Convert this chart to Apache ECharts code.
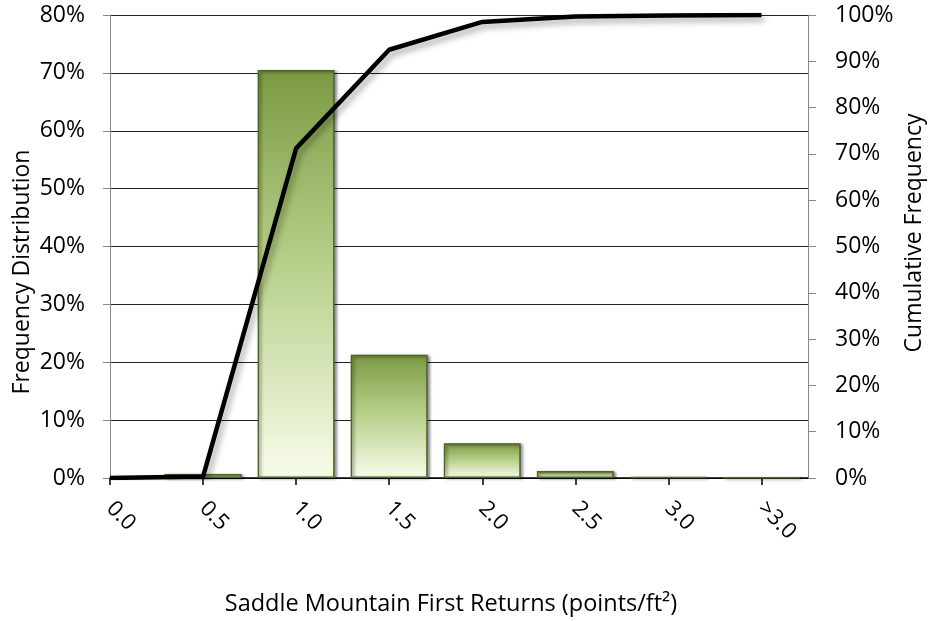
<!DOCTYPE html>
<html>
<head>
<meta charset="utf-8">
<script src="https://cdn.jsdelivr.net/npm/echarts@6/dist/echarts.min.js"></script>
<style>
  html, body { margin: 0; padding: 0; background: #ffffff; }
  #chart { width: 930px; height: 621px; }
</style>
</head>
<body>
<div id="chart"></div>
<script>
// Point-density bins (points/ft²)
const categories = ['0.0', '0.5', '1.0', '1.5', '2.0', '2.5', '3.0', '>3.0'];
// Share of cells in each bin, %
const frequency = [0, 0.7, 70.5, 21.3, 6.0, 1.2, 0.2, 0.1];
// Running total, %
const cumulative = [0, 0.3, 71.2, 92.5, 98.5, 99.7, 99.9, 100];
// Axis tick values, %
const leftTicks = [0, 10, 20, 30, 40, 50, 60, 70, 80];
const rightTicks = [0, 10, 20, 30, 40, 50, 60, 70, 80, 90, 100];

const FONT = '"Open Sans", "Noto Sans", sans-serif';
const positions = categories.map((c, i) => i);

const chart = echarts.init(document.getElementById('chart'), null, { renderer: 'canvas' });

// An empty bin draws nothing (no outline or shadow hanging off the axis)
const barData = frequency.map((v, i) => v === 0
  ? { value: [positions[i], v], itemStyle: { borderWidth: 0, shadowBlur: 0, shadowOffsetX: 0, shadowOffsetY: 0, opacity: 0 } }
  : { value: [positions[i], v] });

chart.setOption({
  backgroundColor: '#ffffff',
  animation: false,
  grid: { left: 110, right: 122, top: 15, bottom: 143 },
  xAxis: {
    type: 'value',
    min: 0,
    max: categories.length - 0.5,
    splitLine: { show: false },
    axisLine: { show: true, onZero: false, lineStyle: { color: '#000', width: 1.5 } },
    axisTick: {
      show: true, length: 7, inside: false,
      customValues: positions,
      lineStyle: { color: '#000', width: 1.5 }
    },
    axisLabel: {
      customValues: positions,
      rotate: -45,
      margin: 27,
      fontFamily: FONT,
      fontSize: 22,
      color: '#000',
      formatter: v => categories[Math.round(v)]
    }
  },
  yAxis: [
    {
      type: 'value',
      min: leftTicks[0],
      max: leftTicks[leftTicks.length - 1],
      interval: 10,
      axisLine: { show: true, lineStyle: { color: '#888', width: 1 } },
      axisTick: { show: true, length: 7, lineStyle: { color: '#888' } },
      splitLine: { show: true, lineStyle: { color: '#222', width: 1 } },
      axisLabel: {
        fontFamily: FONT, fontSize: 23, color: '#000', margin: 25,
        formatter: '{value}%'
      }
    },
    {
      type: 'value',
      min: rightTicks[0],
      max: rightTicks[rightTicks.length - 1],
      interval: 10,
      position: 'right',
      axisLine: { show: true, lineStyle: { color: '#888', width: 1 } },
      axisTick: { show: true, length: 8, lineStyle: { color: '#888' } },
      splitLine: { show: false },
      axisLabel: {
        fontFamily: FONT, fontSize: 23, color: '#000', margin: 27,
        formatter: '{value}%'
      }
    }
  ],
  series: [
    {
      name: 'Frequency Distribution',
      type: 'bar',
      yAxisIndex: 0,
      barWidth: 77,
      clip: true,
      data: barData,
      itemStyle: {
        color: new echarts.graphic.LinearGradient(0, 0, 0, 1, [
          { offset: 0, color: '#7b9a43' },
          { offset: 0.45, color: '#b4cd86' },
          { offset: 1, color: '#f8fcea' }
        ]),
        borderColor: '#4f6429',
        borderWidth: 1.5,
        shadowColor: 'rgba(0,0,0,0.45)',
        shadowBlur: 3,
        shadowOffsetX: 2,
        shadowOffsetY: 1
      },
      z: 2
    },
    {
      name: 'Cumulative Frequency',
      type: 'line',
      yAxisIndex: 1,
      data: cumulative.map((v, i) => [positions[i], v]),
      symbol: 'none',
      lineStyle: {
        color: '#000',
        width: 4.5,
        shadowColor: 'rgba(0,0,0,0.35)',
        shadowBlur: 6,
        shadowOffsetX: 3,
        shadowOffsetY: 4
      },
      z: 3
    }
  ],
  graphic: [
    {
      type: 'text',
      x: 451, y: 604,
      style: {
        text: 'Saddle Mountain First Returns (points/ft²)',
        fontFamily: FONT, fontSize: 23.5, fill: '#000',
        align: 'center', verticalAlign: 'middle'
      }
    },
    {
      type: 'text',
      x: 22, y: 272,
      rotation: Math.PI / 2,
      style: {
        text: 'Frequency Distribution',
        fontFamily: FONT, fontSize: 23, fill: '#000',
        align: 'center', verticalAlign: 'middle'
      }
    },
    {
      type: 'text',
      x: 914, y: 233,
      rotation: Math.PI / 2,
      style: {
        text: 'Cumulative Frequency',
        fontFamily: FONT, fontSize: 23, fill: '#000',
        align: 'center', verticalAlign: 'middle'
      }
    }
  ]
});
</script>
</body>
</html>
